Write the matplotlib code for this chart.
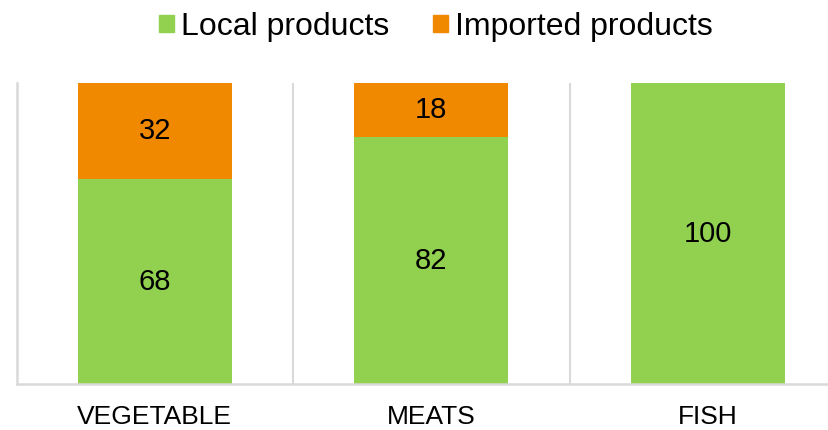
import matplotlib
matplotlib.use("Agg")
import matplotlib.pyplot as plt
from matplotlib.patches import Patch

categories = ["VEGETABLE", "MEATS", "FISH"]
local = [68, 82, 100]
imported = [32, 18, 0]

green = "#92d050"
orange = "#f08800"
grid = "#d9d9d9"

plt.rcParams['font.family'] = ['Liberation Sans', 'DejaVu Sans']

fig = plt.figure(figsize=(8.29, 4.30), dpi=100)
ax = fig.add_axes([16.6 / 829, 46 / 430, 829.5 / 829, 301 / 430])

x = list(range(len(categories)))
w = 0.556
ax.bar(x, local, width=w, color=green, label="Local products", zorder=2)
ax.bar(x, imported, width=w, bottom=local, color=orange, label="Imported products", zorder=2)

for i, (l, m) in enumerate(zip(local, imported)):
    if l > 0:
        ax.text(i, l / 2, str(l), ha="center", va="center", fontsize=21, color="black", zorder=3)
    if m > 0:
        ax.text(i, l + m / 2, str(m), ha="center", va="center", fontsize=21, color="black", zorder=3)

ax.set_xlim(-0.5, len(categories) - 0.5)
ax.set_ylim(0, 100)
for s in [0.5, 1.5]:
    ax.axvline(s, color=grid, lw=1.5, zorder=1)
for sp in ["top", "right"]:
    ax.spines[sp].set_visible(False)
ax.spines["left"].set_color(grid)
ax.spines["left"].set_linewidth(1.8)
ax.spines["bottom"].set_color(grid)
ax.spines["bottom"].set_linewidth(1.8)
ax.set_yticks([])
ax.set_xticks(x)
ax.set_xticklabels(categories, fontsize=19)
ax.tick_params(axis="x", length=0, pad=15)

handles = [Patch(color=green), Patch(color=orange)]
fig.legend(handles, ["Local products", "Imported products"], loc="center",
           bbox_to_anchor=(436 / 829, 1 - 27 / 430), ncol=2, frameon=False,
           fontsize=23, handlelength=0.47, handleheight=0.47, handletextpad=0.22,
           columnspacing=1.35)

fig.savefig("out.png", dpi=100)
